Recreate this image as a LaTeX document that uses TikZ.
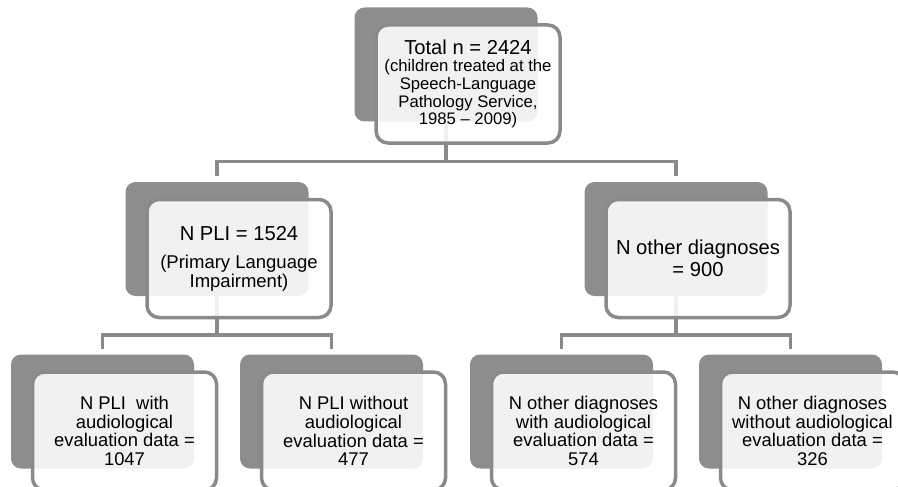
\documentclass[tikz,border=0pt]{standalone}
\usepackage{fontspec}
\setmainfont{Liberation Sans}
\definecolor{boxgray}{RGB}{141,141,141}
\definecolor{linegray}{RGB}{138,138,138}
\begin{document}
\begin{tikzpicture}[x=1pt,y=-1pt,
  back/.style={fill=boxgray, rounded corners=10pt, minimum width=183pt, minimum height=114pt, inner sep=0pt, draw=none},
  front/.style={draw=linegray, line width=3.5pt, fill=white, fill opacity=0.88, draw opacity=1, text opacity=1, rounded corners=12pt, minimum width=184pt, minimum height=118pt, inner sep=0pt, align=center, text=black},
  conn/.style={draw=linegray, line width=3.5pt},
  small/.style={font=\fontsize{16.7}{17.6}\selectfont},
  mid/.style={font=\fontsize{20.2}{22}\selectfont},
  low/.style={font=\fontsize{18.4}{18.7}\selectfont},
]
\useasboundingbox (0,0) rectangle (898,487);
\clip (0,0) rectangle (898,487);
% back boxes
\node[back] (topb) at (446,64.5) {};
\node[back] (plib) at (217,239) {};
\node[back] (othb) at (676,239) {};
\node[back] (b1b) at (102.5,411.5) {};
\node[back] (b2b) at (331.5,411.5) {};
\node[back] (b3b) at (561.5,411.5) {};
\node[back] (b4b) at (790.5,411.5) {};
% connectors
\draw[conn] (topb.south) -- ++(0,40) -| ([yshift=6pt]plib.north);
\draw[conn] (topb.south) -- ++(0,40) -| ([yshift=6pt]othb.north);
\draw[conn] (plib.south) -- ++(0,39) -| ([yshift=5pt]b1b.north);
\draw[conn] (plib.south) -- ++(0,39) -| ([yshift=5pt]b2b.north);
\draw[conn] (othb.south) -- ++(0,39) -| ([yshift=5pt]b3b.north);
\draw[conn] (othb.south) -- ++(0,39) -| ([yshift=5pt]b4b.north);
% front boxes
\node[front, small] (top) at (468,84) {{\fontsize{20.2}{20}\selectfont Total n = 2424}\\(children treated at the\\Speech-Language\\Pathology Service,\\1985 -- 2009)};
\node[front, font=\fontsize{18.5}{19}\selectfont] (pli) at (239,258.5) {{\fontsize{20.2}{20}\selectfont N PLI = 1524}\\[9pt](Primary Language\\Impairment)};
\node[front, mid] (oth) at (698,258.5) {N other diagnoses\\= 900};
\node[front, low] (b1) at (124.5,431) {N PLI~\ with\\audiological\\evaluation data =\\1047};
\node[front, low] (b2) at (353.5,431) {N PLI without\\audiological\\evaluation data =\\477};
\node[front, low] (b3) at (583.5,431) {N other diagnoses\\with audiological\\evaluation data =\\574};
\node[front, low] (b4) at (812.5,431) {N other diagnoses\\without audiological\\evaluation data =\\326};
\end{tikzpicture}
\end{document}
